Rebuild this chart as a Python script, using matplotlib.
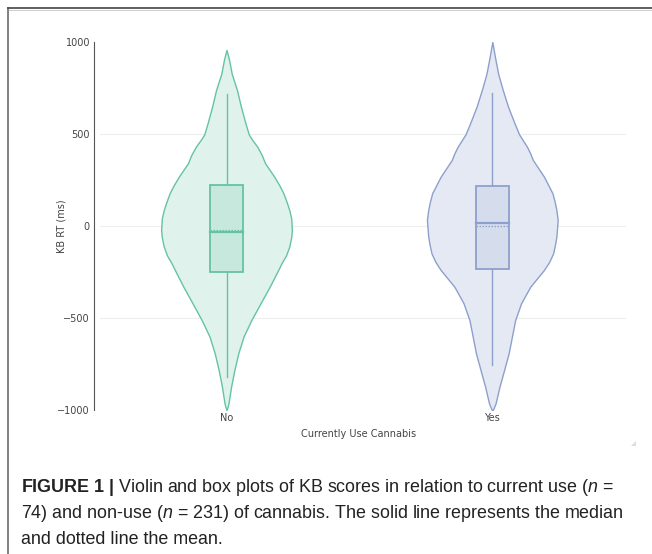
import matplotlib.pyplot as plt
from matplotlib import font_manager
from matplotlib.lines import Line2D
from matplotlib.patches import Polygon
import numpy as np

# ── Data ──────────────────────────────────────────────────────────────────────
categories = ['No', 'Yes']
line_colors = ['#66c2a5', '#8da0cb']
fill_colors = ['#dff2eb', '#e5e9f4']
box_fills   = ['#c7e9dd', '#d5dcec']

# violin outlines: KB RT value and relative density (1 = widest point)
no_vals = [957, 930, 902, 827, 739, 649, 558, 498, 465, 431, 385, 341, 268, 220,
           178, 130, 87, 40, -22, -60, -112, -160, -203, -239, -330, -420, -511,
           -601, -692, -783, -873, -964, -985, -1000]
no_dens = [0, .02, .04, .08, .16, .22, .29, .34, .40, .47, .54, .59, .73, .81,
           .87, .92, .96, .99, 1.0, .99, .96, .91, .84, .79, .66, .52, .38,
           .26, .18, .12, .07, .03, .015, 0]

yes_vals = [1000, 960, 919, 827, 739, 649, 558, 498, 431, 395, 359, 268, 178, 130,
            87, 33, -58, -100, -149, -195, -239, -330, -420, -511, -601, -692,
            -783, -873, -964, -990, -1005]
yes_dens = [0, .02, .04, .09, .16, .24, .34, .41, .53, .58, .62, .79, .92, .955,
            .98, 1.0, .98, .96, .93, .87, .79, .58, .44, .35, .30, .25,
            .18, .11, .05, .02, 0]

# box summaries: whisker low, q1, median, q3, whisker high, mean
no_box  = dict(lo=-819, q1=-252, med=-31, q3=223, hi=716, mean=-20)
yes_box = dict(lo=-755, q1=-232, med=14, q3=217, hi=723, mean=-2)

yticks = [-1000, -500, 0, 500, 1000]
ytick_labels = ['\u22121000', '\u2212500', '0', '500', '1000']
grid_vals = [-500, 0, 500]

caption_lines = [
    r'$\mathbf{FIGURE\ 1\ |}$ Violin and box plots of KB scores in relation to current use ($\mathit{n}$ =',
    r'74) and non-use ($\mathit{n}$ = 231) of cannabis. The solid line represents the median',
    'and dotted line the mean.',
]

# ── Styling ───────────────────────────────────────────────────────────────────
installed = {f.name for f in font_manager.fontManager.ttflist}
cap_font = 'Liberation Sans Narrow' if 'Liberation Sans Narrow' in installed else 'Liberation Sans'

plt.rcParams['font.family'] = 'DejaVu Sans'
plt.rcParams['mathtext.fontset'] = 'custom'
plt.rcParams['mathtext.rm'] = cap_font
plt.rcParams['mathtext.it'] = cap_font + ':italic'
plt.rcParams['mathtext.bf'] = cap_font + ':bold'

W, H = 652, 554
VIOLIN_HW = 0.246     # widest half-width in category units
BOX_HW = 0.062
TEXT = '#444444'

fig = plt.figure(figsize=(W / 100, H / 100), dpi=100)


def fx(x):
    return x / W


def fy(y):
    return 1 - y / H


# plot area
ax = fig.add_axes([fx(100), fy(410), fx(626) - fx(100), fy(42) - fy(410)])
ax.set_xlim(-0.476, 1.503)
ax.set_ylim(-1000, 1000)

for g in grid_vals:
    ax.axhline(g, color='#eeeeee', lw=0.8, zorder=0)

profiles = [(no_vals, no_dens), (yes_vals, yes_dens)]
boxes = [no_box, yes_box]

for i, cat in enumerate(categories):
    vals, dens = np.array(profiles[i][0]), np.array(profiles[i][1])
    ax.fill_betweenx(vals, i - dens * VIOLIN_HW, i + dens * VIOLIN_HW,
                     facecolor=fill_colors[i], edgecolor=line_colors[i],
                     linewidth=1.0, joinstyle='round', zorder=2)

    b = boxes[i]
    # whiskers
    ax.plot([i, i], [b['q3'], b['hi']], color=line_colors[i], lw=1.0, zorder=3)
    ax.plot([i, i], [b['lo'], b['q1']], color=line_colors[i], lw=1.0, zorder=3)
    # box
    bx = [i - BOX_HW, i + BOX_HW, i + BOX_HW, i - BOX_HW]
    by = [b['q1'], b['q1'], b['q3'], b['q3']]
    ax.add_patch(Polygon(list(zip(bx, by)), closed=True, facecolor=box_fills[i],
                         edgecolor=line_colors[i], lw=1.3, zorder=3))
    ax.plot([i - BOX_HW, i + BOX_HW], [b['med'], b['med']],
            color=line_colors[i], lw=1.6, zorder=4)
    ax.plot([i - BOX_HW, i + BOX_HW], [b['mean'], b['mean']],
            color=line_colors[i], lw=0.9, ls=(0, (1.2, 1.2)), zorder=4)

ax.set_yticks(yticks)
ax.set_yticklabels(ytick_labels)
ax.set_xticks(range(len(categories)))
ax.set_xticklabels(categories)
ax.tick_params(axis='both', length=0, labelsize=7, labelcolor=TEXT)
ax.tick_params(axis='y', pad=2.7)
ax.tick_params(axis='x', pad=2.2)

for s in ['top', 'right', 'bottom']:
    ax.spines[s].set_visible(False)
ax.spines['left'].set_position(('outward', 4.5))
ax.spines['left'].set_color('#555555')
ax.spines['left'].set_linewidth(0.8)

fig.text(fx(62), fy(226), 'KB RT (ms)', rotation=90, ha='center', va='center',
         fontsize=7, color=TEXT)
fig.text(fx(359), fy(434), 'Currently Use Cannabis', ha='center', va='center',
         fontsize=7, color=TEXT)

# frame round the figure panel
fig.add_artist(Line2D([fx(8), fx(8)], [fy(8), fy(H + 2)], color='#777777', lw=1.3))
fig.add_artist(Line2D([fx(8), fx(W + 2)], [fy(8), fy(8)], color='#444444', lw=1.2))
fig.add_artist(Line2D([fx(9), fx(W + 2)], [fy(9.8), fy(9.8)], color='#cccccc', lw=0.7))

# small resize grip in the panel corner
fig.add_artist(Polygon([(fx(636), fy(441)), (fx(636), fy(446)), (fx(631), fy(446))],
                       closed=True, facecolor='#dddddd', edgecolor='none'))

# caption
for text, base in zip(caption_lines, [492.5, 518.5, 544.3]):
    fig.text(fx(21), fy(base), text, ha='left', va='baseline',
             fontsize=12.9, family=cap_font, color='#222222')

fig.savefig('out.png', dpi=100)
